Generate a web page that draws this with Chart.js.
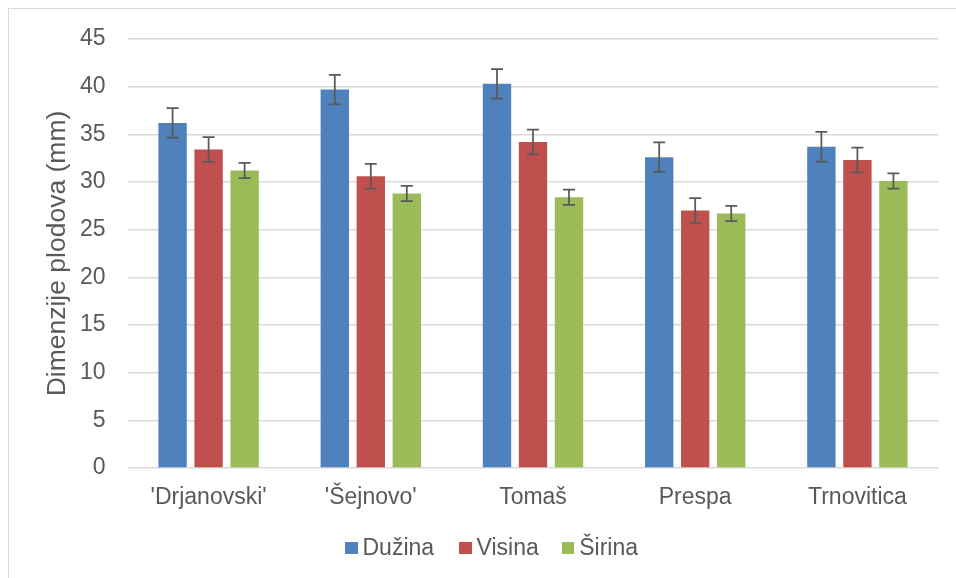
<!DOCTYPE html>
<html>
<head>
<meta charset="utf-8">
<script src="https://cdn.jsdelivr.net/npm/chart.js@4.4.1/dist/chart.umd.min.js"></script>
<style>
  html, body { margin: 0; padding: 0; background: #ffffff; overflow: hidden; }
  #wrap { position: relative; width: 956px; height: 578px; }
  #c { position: absolute; left: 0; top: 0; }
  #frame { position: absolute; left: 8px; top: 8px; width: 990px; height: 600px;
           border: 1px solid #d9d9d9; box-sizing: border-box; pointer-events: none; }
  #legend { position: absolute; left: 0; top: 0; width: 956px; height: 578px; pointer-events: none;
            font-family: "Liberation Sans", Arial, sans-serif; font-size: 23px; color: #595959; }
  .item { position: absolute; top: 535.5px; display: flex; align-items: flex-start; line-height: 23px; white-space: nowrap; }
  .box { width: 12.5px; height: 12px; margin-top: 6.5px; margin-right: 5px; }
</style>
</head>
<body>
<div id="wrap">
  <canvas id="c" width="956" height="578"></canvas>
  <div id="frame"></div>
  <div id="legend"></div>
</div>
<script>
// ---- data ----
const categories = ["'Drjanovski'", "'Šejnovo'", "Tomaš", "Prespa", "Trnovitica"];
const seriesNames = ["Dužina", "Visina", "Širina"];
const duzina = [36.2, 39.7, 40.3, 32.6, 33.7];
const visina = [33.4, 30.6, 34.2, 27.0, 32.3];
const sirina = [31.2, 28.8, 28.4, 26.7, 30.1];
const duzinaErr = [1.55, 1.55, 1.55, 1.55, 1.55];
const visinaErr = [1.3, 1.3, 1.3, 1.3, 1.3];
const sirinaErr = [0.8, 0.8, 0.8, 0.8, 0.8];
const yTicks = [0, 5, 10, 15, 20, 25, 30, 35, 40, 45];
const yTitle = "Dimenzije plodova (mm)";

// ---- styles ----
const colors = ["#4F81BD", "#C0504D", "#9BBB59"];
const textColor = "#595959";
const fontFamily = "'Liberation Sans', Arial, sans-serif";
const legendLefts = [345, 459, 561.7];

const values = [duzina, visina, sirina];
const errors = [duzinaErr, visinaErr, sirinaErr];

const errorBarPlugin = {
  id: 'errorBars',
  afterDatasetsDraw(chart) {
    const ctx = chart.ctx;
    const yScale = chart.scales.y;
    ctx.save();
    ctx.strokeStyle = '#595959';
    ctx.lineWidth = 1.75;
    chart.data.datasets.forEach((ds, di) => {
      const meta = chart.getDatasetMeta(di);
      meta.data.forEach((bar, i) => {
        const v = ds.data[i];
        const e = ds.errors[i];
        const x = bar.x;
        const yTop = yScale.getPixelForValue(v + e);
        const yBot = yScale.getPixelForValue(v - e);
        const cap = 6;
        ctx.beginPath();
        ctx.moveTo(x, yTop); ctx.lineTo(x, yBot);
        ctx.moveTo(x - cap, yTop); ctx.lineTo(x + cap, yTop);
        ctx.moveTo(x - cap, yBot); ctx.lineTo(x + cap, yBot);
        ctx.stroke();
      });
    });
    ctx.restore();
  }
};

const chart = new Chart(document.getElementById('c').getContext('2d'), {
  type: 'bar',
  data: {
    labels: categories,
    datasets: seriesNames.map((name, i) => ({
      label: name,
      data: values[i],
      errors: errors[i],
      backgroundColor: colors[i],
      borderWidth: 0,
      categoryPercentage: 0.666,
      barPercentage: 0.788
    }))
  },
  options: {
    responsive: false,
    animation: false,
    devicePixelRatio: 1,
    layout: { padding: { left: 8, right: 17.5, top: 39, bottom: 60 } },
    plugins: { legend: { display: false }, tooltip: { enabled: false } },
    scales: {
      x: {
        grid: { display: false, drawTicks: false },
        border: { display: false },
        ticks: { color: textColor, font: { family: fontFamily, size: 23 }, padding: 16, maxRotation: 0, autoSkip: false },
        afterFit: s => { s.height = 50; }
      },
      y: {
        min: 0, max: 45,
        afterBuildTicks: s => { s.ticks = yTicks.map(v => ({ value: v })); },
        ticks: { color: textColor, font: { family: fontFamily, size: 23 }, padding: 22 },
        grid: { color: '#d9d9d9', lineWidth: 1.5, drawTicks: false },
        border: { display: false },
        title: { display: true, text: yTitle, color: textColor,
                 font: { family: fontFamily, size: 26.5 }, padding: { top: 33.6, bottom: 0 } },
        afterFit: s => { s.width = 127.5 - 8; }
      }
    }
  },
  plugins: [errorBarPlugin]
});

// HTML legend built from the chart's datasets
const legendEl = document.getElementById('legend');
chart.data.datasets.forEach((ds, i) => {
  const item = document.createElement('div');
  item.className = 'item';
  item.style.left = legendLefts[i] + 'px';
  const box = document.createElement('span');
  box.className = 'box';
  box.style.background = ds.backgroundColor;
  const txt = document.createElement('span');
  txt.textContent = ds.label;
  item.appendChild(box);
  item.appendChild(txt);
  legendEl.appendChild(item);
});
</script>
</body>
</html>
